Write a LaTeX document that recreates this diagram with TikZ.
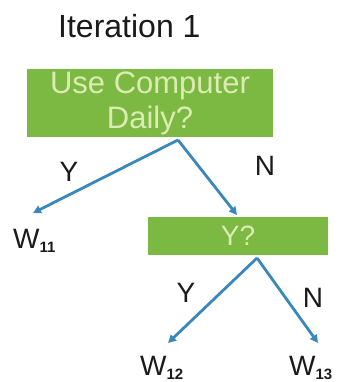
\documentclass[tikz,border=0pt]{standalone}
\usepackage{fontspec}
\setmainfont{Liberation Sans}
\usetikzlibrary{arrows.meta}
\definecolor{boxgreen}{HTML}{7CB943}
\definecolor{boxtext}{HTML}{DCEBB2}
\definecolor{linkblue}{HTML}{3A88B9}
\definecolor{inkgray}{HTML}{1A1A1A}
\begin{document}
\begin{tikzpicture}[x=1pt,y=-1pt,
  decision/.style={fill=boxgreen, draw=none, inner sep=0pt, text=boxtext, align=center},
  link/.style={draw=linkblue, line width=2.8pt, -{Triangle[length=8pt,width=8pt]}},
  branchlabel/.style={text=inkgray, inner sep=0pt, font=\fontsize{28}{30}\selectfont},
  leaf/.style={text=inkgray, inner sep=0pt, anchor=base west, font=\fontsize{28}{30}\selectfont},
  heading/.style={text=inkgray, inner sep=0pt, anchor=base west, font=\fontsize{32}{35}\selectfont}]
\useasboundingbox (0,0) rectangle (343,382);
\clip (0,0) rectangle (343,382);
\fill[white] (0,0) rectangle (343,382);
\newcommand{\wsub}[1]{\raisebox{-4pt}{\fontsize{15}{15}\selectfont\bfseries #1}}
% heading
\node[heading] (title) at (58,38) {Iteration 1};
% decision boxes
\node[decision, minimum width=246pt, minimum height=68pt,
      font=\fontsize{31}{35}\selectfont] (q1) at (150,103) {Use Computer\\Daily?};
\node[decision, minimum width=180pt, minimum height=38pt,
      font=\fontsize{28}{30}\selectfont] (q2) at (238,236) {Y?};
% leaves
\node[leaf] (w11) at (13,248) {W\wsub{11}};
\node[leaf] (w12) at (140,375) {W\wsub{12}};
\node[leaf] (w13) at (289,375) {W\wsub{13}};
% connection points
\coordinate (a1) at (178,140);
\coordinate (t11) at (33,213);
\coordinate (t2) at (237,215);
\coordinate (a2) at (257,258);
\coordinate (t12) at (168,343);
\coordinate (t13) at (318,343);
% connectors
\draw[link] (a1) -- (t11);
\draw[link] (a1) -- (t2);
\draw[link] (a2) -- (t12);
\draw[link] (a2) -- (t13);
% branch labels
\node[branchlabel] (y1) at (69,172) {Y};
\node[branchlabel] (n1) at (265,166) {N};
\node[branchlabel] (y2) at (186,293) {Y};
\node[branchlabel] (n2) at (313,298) {N};
\end{tikzpicture}
\end{document}
